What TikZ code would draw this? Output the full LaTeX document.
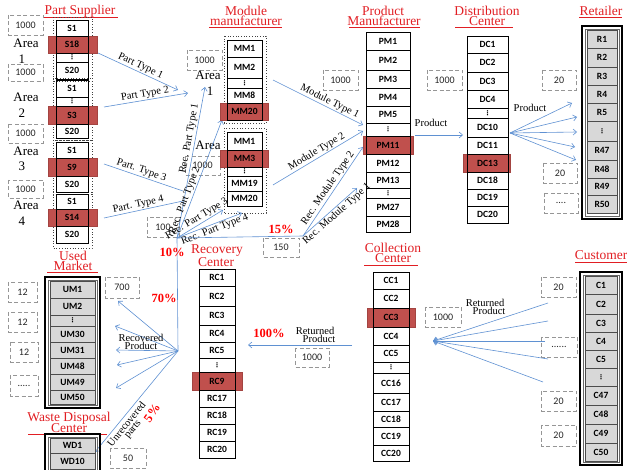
\documentclass[tikz,border=0pt]{standalone}
\usepackage{fontspec}
\setmainfont{Liberation Serif}
\newfontfamily\cellf{Carlito}
\newfontfamily\dvs{DejaVu Sans}
\usetikzlibrary{arrows.meta}
\definecolor{arrc}{RGB}{95,145,210}
\definecolor{hlc}{RGB}{192,80,77}
\definecolor{ttlc}{RGB}{225,30,35}
\definecolor{pctc}{RGB}{255,0,0}
\definecolor{dshc}{RGB}{150,150,150}
\definecolor{grc}{RGB}{216,216,216}
\newcommand\vd{{\dvs\fontsize{6.5}{6.5}\selectfont ⋮}}
% column of cells: prefix, x1, x2, rectangle style, list y1/y2/label
\newcommand\colcells[5]{%
  \foreach \ya/\yb/\lab [count=\i] in {#5} {%
    \draw[#4] (#2,\ya) rectangle (#3,\yb);
    \node[celltxt] (#1\i) at ({(#2+#3)/2},{(\ya+\yb)/2}) {\lab};
  }}
% dashed capacity box: name, x1, y1, x2, y2, text
\newcommand\dboxat[6]{\draw[dbox] (#2,#3) rectangle (#4,#5);
  \node[dtxt] (#1) at ({(#2+#4)/2},{(#3+#5)/2}) {#6};}
\begin{document}
\begin{tikzpicture}[x=1pt,y=-1pt,
  cellw/.style={draw=black, line width=0.6pt},
  cellg/.style={fill=grc, draw=black!70, line width=0.6pt},
  celltxt/.style={inner sep=0, font=\cellf\bfseries\fontsize{9.5}{9.5}\selectfont},
  hl/.style={fill=hlc, draw=hlc!85!black, line width=0.4pt},
  dbox/.style={draw=dshc, line width=0.9pt, dash pattern=on 4pt off 2.5pt},
  dtxt/.style={inner sep=0, font=\cellf\fontsize{10}{10}\selectfont, text=black!85},
  dotbox/.style={draw=black!75, dotted, line width=0.7pt},
  frame/.style={draw=black, line width=2.4pt},
  framein/.style={draw=black!60, line width=0.5pt},
  ttl/.style={text=ttlc, font=\fontsize{13.5}{13.5}\selectfont, inner sep=0},
  uline/.style={draw=ttlc, line width=0.6pt},
  area/.style={font=\fontsize{13}{13}\selectfont, inner sep=0},
  lab/.style={font=\fontsize{10.5}{10.5}\selectfont, inner sep=1pt},
  pct/.style={text=pctc, font=\bfseries\fontsize{12.5}{12.5}\selectfont, inner sep=0},
  arr/.style={draw=arrc, line width=0.6pt, -{Straight Barb[length=3.5pt,width=6pt]}},
  ln/.style={draw=arrc, line width=0.6pt}]
\useasboundingbox (0,0) rectangle (627,470);

% ---------- titles ----------
\node[ttl] (tps) at (80,11) {Part Supplier};
\draw[uline] (43,17) -- (118,17);
\node[ttl] (tmm1) at (246,11) {Module};
\node[ttl] (tmm2) at (246,21) {manufacturer};
\draw[uline] (209,27) -- (282,27);
\node[ttl] (tpm1) at (383,11) {Product};
\node[ttl] (tpm2) at (384,21) {Manufacturer};
\draw[uline] (349,27) -- (420,27);
\node[ttl] (tdc1) at (487,11) {Distribution};
\node[ttl] (tdc2) at (487,21) {Center};
\draw[uline] (455,27) -- (513,27);
\node[ttl] (tre) at (601,11) {Retailer};
\draw[uline] (579,17) -- (622,17);
\node[ttl] (tum1) at (73,256) {Used};
\node[ttl] (tum2) at (73,266) {Market};
\draw[uline] (47,272) -- (98,272);
\node[ttl] (trc1) at (217,251) {Recovery};
\node[ttl] (trc2) at (216,262) {Center};
\node[ttl] (tcc1) at (393,248) {Collection};
\node[ttl] (tcc2) at (393,258) {Center};
\draw[uline] (364,265) -- (418,265);
\node[ttl] (tcu) at (601,255) {Customer};
\draw[uline] (575,262) -- (627,262);
\node[ttl] (twd1) at (69,418) {Waste Disposal};
\node[ttl] (twd2) at (69,428) {Center};
\draw[uline] (28,434) -- (107,434);

% ---------- dashed capacity boxes ----------
\dboxat{d1}{8}{15}{43}{35}{1000}
\dboxat{d2}{8}{64}{43}{81}{1000}
\dboxat{d3}{8}{124}{43}{143}{1000}
\dboxat{d4}{8}{180}{43}{198}{1000}
\dboxat{d5}{187}{50}{222}{70}{1000}
\dboxat{d6}{185}{156}{220}{175}{1000}
\dboxat{d7}{323}{70}{358}{90}{1000}
\dboxat{d8}{427}{70}{462}{90}{1000}
\dboxat{d9}{542}{70}{576}{90}{20}
\dboxat{d10}{543}{163}{577}{183}{20}
\dboxat{d11}{544}{193}{578}{213}{....}
\dboxat{d12}{147}{217}{179}{237}{100}
\dboxat{d13}{263}{238}{299}{257}{150}
\dboxat{d14}{295}{348}{329}{367}{1000}
\dboxat{d15}{105}{277}{139}{298}{700}
\dboxat{d16}{8}{282}{37}{302}{12}
\dboxat{d17}{8}{312}{37}{332}{12}
\dboxat{d18}{10}{342}{38}{362}{12}
\dboxat{d19}{10}{375}{38}{396}{.....}
\dboxat{d20}{110}{448}{146}{468}{50}
\dboxat{d21}{425}{307}{461}{327}{1000}
\dboxat{d22}{541}{277}{576}{297}{20}
\dboxat{d23}{541}{337}{577}{357}{......}
\dboxat{d24}{541}{391}{576}{411}{20}
\dboxat{d25}{541}{425}{576}{446}{20}

% ---------- area labels ----------
\node[area] (ar1) at (26,43) {Area};  \node[area] (ar1n) at (22,59) {1};
\node[area] (ar2) at (26,97) {Area};  \node[area] (ar2n) at (22,113) {2};
\node[area] (ar3) at (26,151) {Area}; \node[area] (ar3n) at (22,166) {3};
\node[area] (ar4) at (26,205) {Area}; \node[area] (ar4n) at (22,221) {4};
\node[area] (ar5) at (208,75) {Area}; \node[area] (ar5n) at (210,91) {1};
\node[area] (ar6) at (208,145) {Area};

% ---------- connector points ----------
\coordinate (p1s) at (98,53);   \coordinate (p1e) at (178,90);
\coordinate (p2s) at (104,107); \coordinate (p2e) at (188,93);
\coordinate (p3s) at (104,164); \coordinate (p3e) at (183,191);
\coordinate (p4s) at (104,218); \coordinate (p4e) at (183,201);
\coordinate (rp) at (177,238);  \coordinate (rc) at (178,351);
\coordinate (rq1) at (205,87);  \coordinate (rq2) at (222,120);
\coordinate (rq3) at (223,210); \coordinate (rq4) at (242,213);
\coordinate (mp) at (303,236);
\coordinate (m1s) at (273,80);  \coordinate (m1e) at (363,125);
\coordinate (m2s) at (273,185); \coordinate (m2e) at (363,131);
\coordinate (rm2e) at (363,147); \coordinate (rm1e) at (357,188);
\coordinate (pds) at (415,135); \coordinate (pde) at (463,135);
\coordinate (dcs) at (510,133);
\coordinate (re1) at (572,103); \coordinate (re2) at (577,117); \coordinate (re3) at (577,132);
\coordinate (re4) at (575,147); \coordinate (re5) at (576,160);
\coordinate (ccs) at (352,345); \coordinate (rce) at (248,345);
\coordinate (cct) at (433,341);
\coordinate (cu1) at (548,303); \coordinate (cu2) at (548,321); \coordinate (cu3) at (545,341);
\coordinate (cu4) at (548,359); \coordinate (cu5) at (543,382);
\coordinate (ru1) at (118,301); \coordinate (ru2) at (115,326); \coordinate (ru3) at (116,350);
\coordinate (ru4) at (117,365); \coordinate (ru5) at (116,388);
\coordinate (wde) at (95,452);

% ---------- connectors ----------
\draw[arr] (p1s) -- node[lab, midway, above, sloped] (lp1) {Part Type 1} (p1e);
\draw[arr] (p2s) -- node[lab, midway, above, sloped] (lp2) {Part Type 2} (p2e);
\draw[ln] (p3s) -- node[lab, pos=0.45, above, sloped] (lp3) {Part. Type 3} (p3e);
\draw[ln] (p4s) -- node[lab, pos=0.45, above, sloped] (lp4) {Part. Type 4} (p4e);
\draw[ln] (rc) -- (rp);
\draw[arr] (rp) -- node[lab, pos=0.65, above, sloped] (lr1) {Rec. Part Type 1} (rq1);
\draw[arr] (rp) -- node[lab, pos=0.3, above, sloped] (lr2) {Rec. Part Type 2} (rq2);
\draw[arr] (rp) -- node[lab, pos=0.5, above, sloped] (lr3) {Rec. Part Type 3} (rq3);
\draw[arr] (rp) -- node[lab, pos=0.55, below, sloped] (lr4) {Rec. Part Type 4} (rq4);
\draw[ln] (rp) -- (mp);
\draw[arr] (mp) -- node[lab, pos=0.5, above, sloped] (lrm2) {Rec. Module Type 2} (rm2e);
\draw[arr] (mp) -- node[lab, pos=0.55, below, sloped] (lrm1) {Rec. Module Type 1} (rm1e);
\draw[arr] (m1s) -- node[lab, pos=0.6, above, sloped] (lm1) {Module Type 1} (m1e);
\draw[arr] (m2s) -- node[lab, pos=0.52, above, sloped] (lm2) {Module Type 2} (m2e);
\draw[arr] (pds) -- (pde);
\node[lab] (lpd) at (431,123) {Product};
\foreach \t in {re1,re2,re3,re4,re5} \draw[arr] (dcs) -- (\t);
\node[lab] (lpr) at (530,108) {Product};
\draw[arr] (ccs) -- (rce);
\node[lab, align=center] (lret1) at (315,335) {Returned\\[-3pt]\hspace*{8pt}Product};
\foreach \t in {cu1,cu2,cu3,cu4,cu5} \draw[arr] (\t) -- (cct);
\node[lab, align=center] (lret2) at (485,307) {Returned\\[-3pt]\hspace*{8pt}Product};
\foreach \t in {ru1,ru2,ru3,ru4,ru5} \draw[arr] (rc) -- (\t);
\node[lab, align=center] (lrec) at (141,342) {Recovered\\[-3pt]Product};
\draw[arr] (rc) -- (wde);
\node[lab, align=center, rotate=51] (lunr) at (130,427) {Unrecovered\\[-3pt]parts};

% ---------- percentages ----------
\node[pct] (pc10) at (172,252) {10\%};
\node[pct] (pc15) at (281,229) {15\%};
\node[pct] (pc70) at (164,298) {70\%};
\node[pct] (pc100) at (269,333) {100\%};
\node[pct, rotate=55] (pc5) at (152,413) {5\%};

% ---------- Part supplier ----------
\draw[dotbox] (53,17) rectangle (92,81);
\draw[dotbox] (53,78) rectangle (92,140);
\draw[dotbox] (53,140) rectangle (92,194);
\draw[dotbox] (53,192) rectangle (92,248);
\draw[hl] (48,36) rectangle (97,53);
\draw[hl] (48,106) rectangle (97,124);
\draw[hl] (48,158) rectangle (97,176);
\draw[hl] (48,209) rectangle (97,226);
\colcells{sa}{56}{88}{cellw}{20/36/S1,36/53/S18,53/62/\vd,62/79/S20}
\colcells{sb}{56}{88}{cellw}{80/97/S1,97/106/\vd,106/124/S3,124/138/S20}
\colcells{sc}{56}{88}{cellw}{142/158/S1,158/176/S9,176/192/S20}
\colcells{sd}{56}{88}{cellw}{194/209/S1,209/226/S14,226/243/S20}

% ---------- Module manufacturer ----------
\draw[dotbox] (224,36) rectangle (266,123);
\draw[dotbox] (224,128) rectangle (266,213);
\draw[hl] (220,103) rectangle (268,120);
\draw[hl] (220,150) rectangle (268,167);
\colcells{ma}{227}{262}{cellw}{40/57/MM1,57/78/MM2,78/88/\vd,88/103/MM8,103/120/MM20}
\colcells{mb}{227}{262}{cellw}{132/150/MM1,150/167/MM3,167/176/\vd,176/191/MM19,191/206/MM20}

% ---------- Product manufacturer ----------
\draw[hl] (363,136) rectangle (413,154);
\colcells{pm}{366}{410}{cellw}{32/50/PM1,50/70/PM2,70/88/PM3,88/106/PM4,106/123/PM5,123/136/\vd,136/154/PM11,154/172/PM12,172/188/PM13,188/198/\vd,198/216/PM27,216/232/PM28}

% ---------- Distribution center ----------
\draw[hl] (463,154) rectangle (510,172);
\colcells{dc}{467}{508}{cellw}{36/53/DC1,53/72/DC2,72/90/DC3,90/108/DC4,108/118/\vd,118/137/DC10,137/154/DC11,154/172/DC13,172/189/DC18,189/206/DC19,206/223/DC20}

% ---------- Retailer ----------
\draw[frame] (582,26) rectangle (622,219);
\draw[framein] (585,29) rectangle (619,216);
\colcells{r}{587}{617}{cellg}{30/48/R1,48/67/R2,67/85/R3,85/103/R4,103/121/R5,121/141/\vd,141/160/R47,160/178/R48,178/195/R49,195/213/R50}

% ---------- Used market ----------
\draw[frame] (45,277) rectangle (100,408);
\draw[framein] (48,280) rectangle (97,405);
\colcells{um}{50}{95}{cellg}{281/298/UM1,298/315/UM2,315/326/\vd,326/342/UM30,342/358/UM31,358/374/UM48,374/390/UM49,390/404/UM50}

% ---------- Waste disposal ----------
\draw[frame] (45,434) rectangle (100,480);
\draw[framein] (48,437) rectangle (97,477);
\colcells{wd}{50}{95}{cellg}{438/453/WD1,453/469/WD10}

% ---------- Customer ----------
\draw[frame] (580,272) rectangle (622,465);
\draw[framein] (583,275) rectangle (619,462);
\colcells{cu}{585}{617}{cellg}{276/294/C1,294/314/C2,314/332/C3,332/350/C4,350/368/C5,368/386/\vd,386/405/C47,405/424/C48,424/443/C49,443/461/C50}

% ---------- Recovery center ----------
\draw[hl] (192,372) rectangle (242,390);
\colcells{rc}{199}{235}{cellw}{269/286/RC1,286/306/RC2,306/325/RC3,325/342/RC4,342/358/RC5,358/372/\vd,372/390/RC9,390/407/RC17,407/424/RC18,424/441/RC19,441/458/RC20}

% ---------- Collection center ----------
\draw[hl] (367,308) rectangle (415,327);
\colcells{cc}{373}{409}{cellw}{272/289/CC1,289/308/CC2,308/327/CC3,327/345/CC4,345/362/CC5,362/373/\vd,373/393/CC16,393/411/CC17,411/427/CC18,427/445/CC19,445/461/CC20}
\end{tikzpicture}
\end{document}
